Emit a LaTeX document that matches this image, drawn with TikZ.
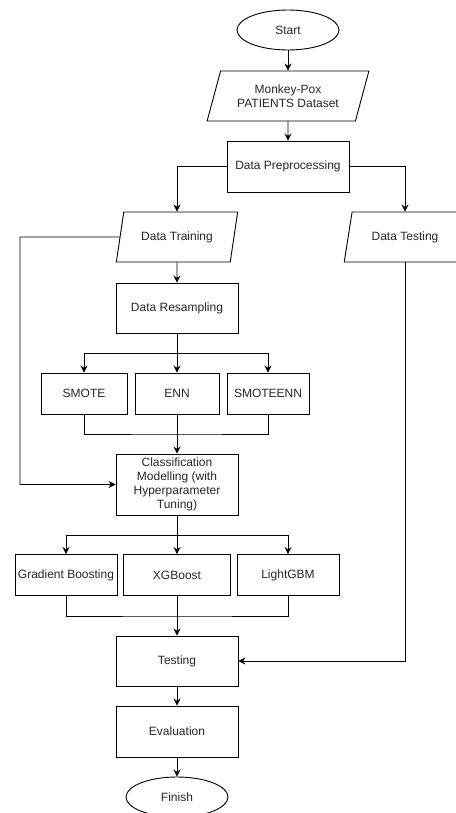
\documentclass[tikz,border=0pt]{standalone}
\usepackage{fontspec}
\setmainfont{Liberation Sans}
\usetikzlibrary{shapes.geometric,arrows.meta}
\tikzset{
  every node/.style={font=\fontsize{12}{14}\selectfont, text=black!85},
  term/.style={draw, ellipse, minimum width=102, minimum height=40, inner sep=0pt},
  io/.style={draw, trapezium, trapezium left angle=66, trapezium right angle=114, trapezium stretches=true, minimum width=#1, minimum height=50, inner sep=0pt},
  proc/.style={draw, rectangle, minimum width=122, minimum height=50, inner sep=0pt},
  algo/.style={draw, rectangle, minimum width=#1, minimum height=41, inner sep=0pt},
  arr/.style={-{Stealth[length=7pt,width=7pt]}},
}
\begin{document}
\begin{tikzpicture}[x=1pt,y=-1pt,line width=0.9pt]
            \useasboundingbox (0,0) rectangle (455,813);
            \node (start) at (288,30) [term] {Start};
            \node (dataset) at (288,96) [io=162, align=center] {Monkey-Pox\\PATIENTS Dataset};
            \node (prep) at (288,166.5) [proc, minimum height=51] {Data Preprocessing};
            \node (train) at (177,237) [io=122] {Data Training};
            \node (test) at (405,237) [io=122] {Data Testing};
            \node (resamp) at (177,308) [proc] {Data Resampling};
            \node (smote) at (84,393.5) [algo=86] {SMOTE};
            \node (enn) at (177,393.5) [algo=84] {ENN};
            \node (smoteenn) at (268,393.5) [algo=82] {SMOTEENN};
            \node (clf) at (177,484.5) [proc, minimum height=61, align=center] {Classification\\Modelling (with\\Hyperparameter\\Tuning)};
            \node (gb) at (66,575) [algo=102] {Gradient Boosting};
            \node (xgb) at (177,575) [algo=107] {XGBoost};
            \node (lgbm) at (288,575) [algo=102] {LightGBM};
            \node (testing) at (177,661) [proc] {Testing};
            \node (eval) at (177,731.5) [proc, minimum height=51] {Evaluation};
            \node (finish) at (177,797) [term] {Finish};
            \coordinate (split1) at (177,353);
            \coordinate (merge1) at (177,434);
            \coordinate (split2) at (177,535);
            \coordinate (merge2) at (177,616);
            \coordinate (loop) at (20,237);
            % main flow
            \draw[arr] (start)--(dataset);
            \draw[arr] (dataset)--(prep);
            \draw[arr] (prep.west)-|(train.north);
            \draw[arr] (prep.east)-|(test.north);
            \draw[arr] (train)--(resamp);
            \draw (resamp)--(split1);
            \draw[arr] (split1)-|(smote.north);
            \draw[arr] (split1)--(enn);
            \draw[arr] (split1)-|(smoteenn.north);
            \draw (smote.south)|-(merge1)-|(smoteenn.south);
            \draw[arr] (enn)--(clf);
            \draw[arr] (train.west)--(loop)|-(clf.west);
            \draw (clf)--(split2);
            \draw[arr] (split2)-|(gb.north);
            \draw[arr] (split2)--(xgb);
            \draw[arr] (split2)-|(lgbm.north);
            \draw (gb.south)|-(merge2)-|(lgbm.south);
            \draw[arr] (xgb)--(testing);
            \draw[arr] (test.south)|-(testing.east);
            \draw[arr] (testing)--(eval);
            \draw[arr] (eval)--(finish);
        \end{tikzpicture}
\end{document}
